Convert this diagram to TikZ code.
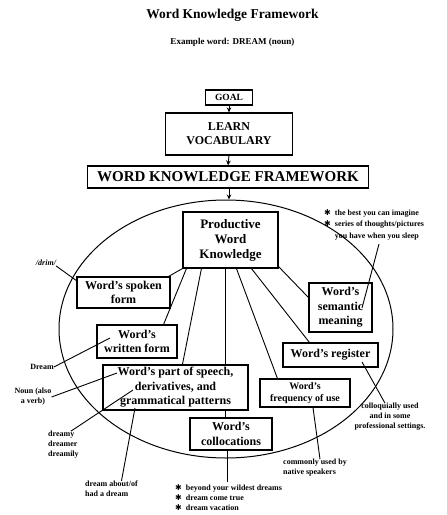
\documentclass[tikz,border=0pt]{standalone}
\usepackage{fontspec}
\setmainfont{Liberation Serif}
\newfontfamily\symfont{DejaVu Sans}
\usetikzlibrary{calc,arrows.meta,shapes.geometric}
\newcommand{\bul}{{\symfont\char"2731}}
\begin{document}
\begin{tikzpicture}[x=1pt,y=-1pt,
  box/.style={draw,line width=1.1pt,fill=white,align=center,inner sep=1pt,
    font=\bfseries\fontsize{12}{14.5}\selectfont},
  note/.style={align=center,inner sep=0pt,font=\bfseries\fontsize{8}{10}\selectfont},
  link/.style={line width=0.9pt},
  arr/.style={line width=0.9pt,-{Stealth[length=5pt,width=4.5pt]}}]
\useasboundingbox (0,0) rectangle (447,515);

% titles
\node[font=\bfseries\fontsize{13.5}{16}\selectfont] (title) at (232.5,15) {Word Knowledge Framework};
\node[font=\bfseries\fontsize{9}{11}\selectfont] (sub) at (232.5,42) {Example word: DREAM (noun)};

% ellipse
\node[draw,ellipse,line width=1pt,minimum width=334pt,minimum height=258pt,inner sep=0pt] (oval) at (226,329) {};

% top chain
\node[box,minimum width=47pt,minimum height=15pt,font=\bfseries\fontsize{9.5}{11}\selectfont] (goal) at (229,97.5) {GOAL};
\node[box,minimum width=127pt,minimum height=42pt,font=\bfseries\fontsize{12}{14}\selectfont] (learn) at (229,134) {LEARN\\VOCABULARY};
\node[box,minimum width=281pt,minimum height=22pt,font=\bfseries\fontsize{15}{17}\selectfont] (wkf) at (228,177) {WORD KNOWLEDGE FRAMEWORK};

% inner boxes
\node[box,minimum width=95pt,minimum height=56pt,font=\bfseries\fontsize{13}{15}\selectfont] (pwk) at (230.5,240) {Productive\\Word\\Knowledge};
\node[box,minimum width=93pt,minimum height=31pt] (spoken) at (123.5,292.5) {Word's spoken\\form};
\node[box,minimum width=63pt,minimum height=49pt] (sem) at (340.5,307.5) {Word's\\semantic\\meaning};
\node[box,minimum width=80pt,minimum height=33pt] (written) at (137,341.5) {Word's\\written form};
\node[box,minimum width=95pt,minimum height=24pt] (reg) at (330.5,355) {Word's register};
\node[box,minimum width=145pt,minimum height=45pt] (posbox) at (175.5,387.5) {Word's part of speech,\\derivatives, and\\grammatical patterns};
\node[box,minimum width=90pt,minimum height=28pt,font=\bfseries\fontsize{10}{12.5}\selectfont] (freq) at (305,393) {Word's\\frequency of use};
\node[box,minimum width=82pt,minimum height=32pt] (colloc) at (231,434) {Word's\\collocations};

% arrows of the top chain
\draw[arr] (goal.south) -- (learn.north);
\draw[arr] (learn.south) -- (wkf.north);
\draw[arr] (wkf.south -| goal.south) -- (oval.north -| goal.south);

% links from productive knowledge
\draw[link] (pwk.south west) -- ([xshift=-2pt]spoken.north east);
\draw[link] ([xshift=4pt]pwk.south west) -- ([xshift=-14pt]written.north east);
\draw[link] ([xshift=19pt]pwk.south west) -- ([xshift=80pt]posbox.north west);
\coordinate (vtop) at ($(pwk.south)+(-5.5,0)$);
\draw[link] (vtop) -- (vtop |- posbox.north);
\draw[link] (posbox.south -| vtop) -- (colloc.north -| vtop);
\draw[link] ([xshift=54pt]pwk.south west) -- ([xshift=18pt]freq.north west);
\draw[link] ([xshift=69pt]pwk.south west) -- ([xshift=27pt]reg.north west);
\draw[link] ([yshift=2pt]pwk.south east) -- ([yshift=10pt]sem.west);

% annotations
\node[note,font=\bfseries\itshape\fontsize{8}{10}\selectfont] (phon) at (46,263) {/drim/};
\coordinate (phonEnd) at (77,281);
\draw[link] (phon.south east) -- (phonEnd);

\node[note] (dreamw) at (42,367) {Dream};
\coordinate (dreamwEnd) at (110,338);
\draw[link] (dreamw.east) -- (dreamwEnd);

\node[note] (noun) at (33,397) {Noun (also\\a verb)};
\coordinate (nounEnd) at (117,373);
\draw[link] (noun.east) -- (nounEnd);

\node[note,align=left,anchor=west] (deriv) at (48,445) {dreamy\\dreamer\\dreamily};
\coordinate (derivEnd) at (133,390);
\draw[link] ([xshift=-8pt]deriv.north east) -- (derivEnd);

\node[note,align=left,anchor=west] (gram) at (85,489) {dream about/of\\had a dream};
\coordinate (gramEnd) at (135,408);
\draw[link] ([xshift=10pt]gram.north) -- (gramEnd);

\node[note,align=left,anchor=north west,font=\bfseries\fontsize{8}{10}\selectfont] (colnote) at (175,484)
  {\bul\ \ beyond your wildest dreams\\\bul\ \ dream come true\\\bul\ \ dream vacation};
\coordinate (colEnd) at (227,482);
\draw[link] (colloc.south -| colEnd) -- (colEnd);

\node[note,align=left,anchor=west] (freqnote) at (283,468) {commonly used by\\native speakers};
\draw[link] ([xshift=8pt]freq.south) -- ([xshift=37pt]freqnote.north west);

\node[note] (regnote) at (390,417) {colloquially used\\and in some\\professional settings.};
\coordinate (regIn) at (362,362);
\draw[link] (regIn) -- ([xshift=-5pt]regnote.north);

\node[note,align=left,anchor=north west,font=\bfseries\fontsize{8}{11.5}\selectfont] (semnote) at (324,209)
  {\bul\ \ the best you can imagine\\\bul\ \ series of thoughts/pictures\\\phantom{\bul\ \ }you have when you sleep};
\coordinate (semStart) at (379,244);
\coordinate (semEnd) at (362,308);
\draw[link] (semStart) -- (semEnd);
\end{tikzpicture}
\end{document}
